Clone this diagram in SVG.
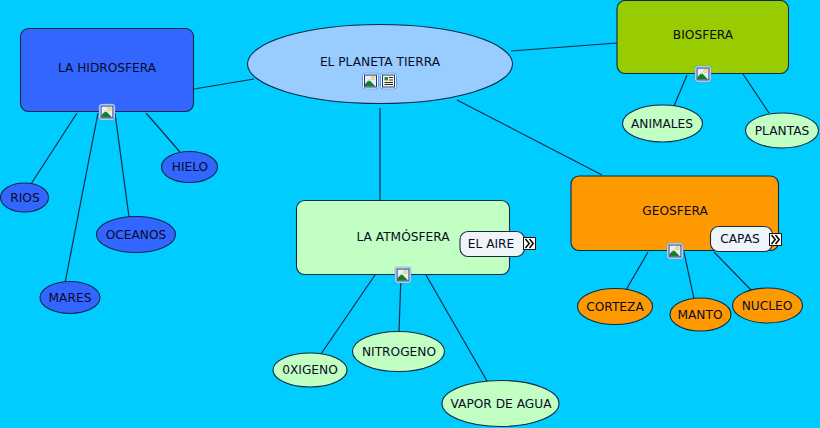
<svg xmlns="http://www.w3.org/2000/svg" width="820" height="428" viewBox="0 0 820 428">
<style>
text{font-family:"DejaVu Sans",Verdana,sans-serif;font-size:12.2px;fill:#0a0a28;text-anchor:middle}
.n{stroke:#0a2a46;stroke-width:1.1}
.c line{stroke:#0c2c48;stroke-width:1.200}
.blue{fill:#3366ff}.green{fill:#c2ffc2}.orange{fill:#ff9900}.lime{fill:#99cc00}.sky{fill:#99ccff}
.tag{fill:#eef4f8;stroke:#1c2c3c;stroke-width:1.100}
</style>
<defs>
<symbol id="pic" viewBox="0 0 17 17" width="17" height="17">
<rect x="0.500" y="0.500" width="16" height="16" rx="2.500" fill="#fff" stroke="#5c98ec"/>
<rect x="2.500" y="2.500" width="12" height="12" fill="#e8f0fc" stroke="#12357c"/>
<circle cx="10.800" cy="5.600" r="1.800" fill="#fbe878" stroke="#c8a838" stroke-width="0.500"/>
<path d="M3 14V11.800L7 7L13.500 14Z" fill="#1c7a2c"/>
<path d="M7 7L5.700 8.800L8.300 8.600Z" fill="#d8f0d0"/>
</symbol>
<symbol id="doc" viewBox="0 0 17 17" width="17" height="17">
<rect x="0.500" y="0.500" width="16" height="16" rx="2.500" fill="#fff" stroke="#5c98ec"/>
<rect x="2.500" y="2.500" width="12" height="12" fill="#fdfbe0" stroke="#12357c"/>
<rect x="4.500" y="4.500" width="3.500" height="3.500" fill="#2f7a50"/>
<path d="M9 5h4M9 7.500h4M4.500 10h8.500M4.500 12h8.500" stroke="#222" stroke-width="1"/>
</symbol>
<symbol id="more" viewBox="0 0 13 13" width="13" height="13">
<rect x="0.500" y="0.500" width="12" height="12" fill="#fff" stroke="#111"/>
<path d="M2.500 2L6.200 6.500L2.500 11M6.500 2L10.200 6.500L6.500 11" fill="none" stroke="#000" stroke-width="1.500"/>
</symbol>
</defs>
<rect width="820" height="428" fill="#00ccff"/>
<g id="connectors" class="c">
<line x1="194" y1="89" x2="254" y2="79"/>
<line x1="511" y1="51" x2="617" y2="43"/>
<line x1="380" y1="108" x2="380" y2="200"/>
<line x1="457" y1="100" x2="602" y2="175"/>
<line x1="77" y1="113" x2="31" y2="184"/>
<line x1="98" y1="113" x2="65" y2="283"/>
<line x1="115" y1="113" x2="129" y2="217"/>
<line x1="146" y1="113" x2="180" y2="152"/>
<line x1="687" y1="75" x2="674" y2="106"/>
<line x1="743" y1="74" x2="769" y2="113"/>
<line x1="375" y1="275" x2="321" y2="354"/>
<line x1="401" y1="275" x2="399" y2="332"/>
<line x1="426" y1="275" x2="487" y2="381"/>
<line x1="648" y1="252" x2="626" y2="290"/>
<line x1="684" y1="252" x2="694" y2="299"/>
<line x1="714" y1="252" x2="752" y2="291"/>
</g>
<g id="hidrosfera"><rect class="n blue" x="20.500" y="28.500" width="173" height="83" rx="8"/><text x="107" y="72">LA HIDROSFERA</text><use href="#pic" x="98.500" y="103.500"/></g>
<g id="planeta"><ellipse class="n sky" cx="380" cy="64" rx="132.500" ry="39.500"/><text x="380" y="66">EL PLANETA TIERRA</text><use href="#pic" x="362" y="72.500"/><use href="#doc" x="380" y="72.500"/></g>
<g id="biosfera"><rect class="n lime" x="617" y="0.500" width="171.500" height="73" rx="8"/><text x="703" y="39">BIOSFERA</text><use href="#pic" x="694.500" y="65.500"/></g>
<g id="atmosfera"><rect class="n green" x="296.500" y="200.500" width="213" height="74" rx="8"/><text x="403" y="241">LA ATMÓSFERA</text><use href="#pic" x="394.500" y="266.500"/></g>
<g id="el-aire"><rect class="tag" x="460" y="231.500" width="64.500" height="25" rx="8"/><text x="491" y="248">EL AIRE</text><use href="#more" x="523" y="237"/></g>
<g id="geosfera"><rect class="n orange" x="571" y="176" width="207.500" height="74.500" rx="8"/><text x="675" y="215">GEOSFERA</text><use href="#pic" x="666.500" y="242.500"/></g>
<g id="capas"><rect class="tag" x="710.500" y="226.500" width="62" height="25" rx="8"/><text x="740" y="243">CAPAS</text><use href="#more" x="769" y="233"/></g>
<g id="rios"><ellipse class="n blue" cx="24.500" cy="197.500" rx="24" ry="14.500"/><text x="25" y="202">RIOS</text></g>
<g id="mares"><ellipse class="n blue" cx="70" cy="297.500" rx="30" ry="16"/><text x="70" y="302">MARES</text></g>
<g id="oceanos"><ellipse class="n blue" cx="136" cy="234.500" rx="39.500" ry="18"/><text x="136" y="239">OCEANOS</text></g>
<g id="hielo"><ellipse class="n blue" cx="189.500" cy="167" rx="28" ry="15.500"/><text x="190" y="171">HIELO</text></g>
<g id="animales"><ellipse class="n green" cx="662.500" cy="123.500" rx="40" ry="18.500"/><text x="662" y="128">ANIMALES</text></g>
<g id="plantas"><ellipse class="n green" cx="782" cy="130.500" rx="36.500" ry="17.500"/><text x="782" y="135">PLANTAS</text></g>
<g id="oxigeno"><ellipse class="n green" cx="310" cy="370" rx="37" ry="17"/><text x="310" y="374">0XIGENO</text></g>
<g id="nitrogeno"><ellipse class="n green" cx="398.500" cy="351.500" rx="46" ry="20"/><text x="399" y="356">NITROGENO</text></g>
<g id="vapor"><ellipse class="n green" cx="500.500" cy="403.500" rx="58.500" ry="23"/><text x="501" y="408">VAPOR DE AGUA</text></g>
<g id="corteza"><ellipse class="n orange" cx="615" cy="306.500" rx="37.500" ry="18"/><text x="615" y="311">CORTEZA</text></g>
<g id="manto"><ellipse class="n orange" cx="700.500" cy="314.500" rx="30.500" ry="16.500"/><text x="700" y="319">MANTO</text></g>
<g id="nucleo"><ellipse class="n orange" cx="767.500" cy="305.500" rx="35" ry="17.500"/><text x="767" y="310">NUCLEO</text></g>
</svg>
